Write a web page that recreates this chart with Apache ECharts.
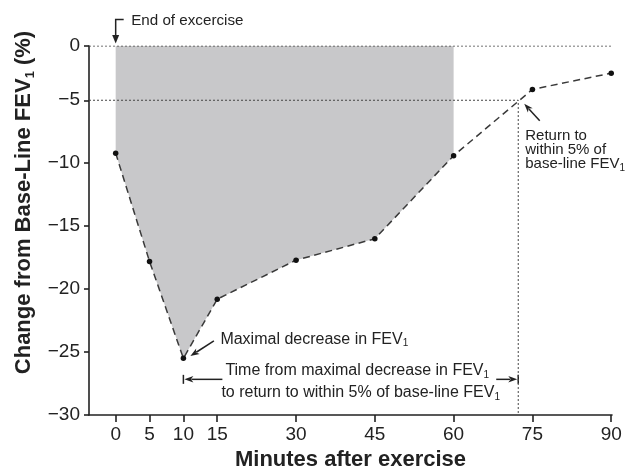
<!DOCTYPE html>
<html><head><meta charset="utf-8">
<script src="https://cdn.jsdelivr.net/npm/echarts@6/dist/echarts.min.js"></script>
<style>html,body{margin:0;padding:0;background:#fff}#c{width:627px;height:476px}</style>
</head><body><div id="c"></div>
<script>
// ---------------- data ----------------
const minutes = [0, 5, 10, 15, 30, 45, 60, 75, 90];
const fevChange = [-9.2, -17.8, -25.5, -20.8, -17.7, -16.0, -9.4, -4.0, -2.5];
const xTickMinutes = [0, 5, 10, 15, 30, 45, 60, 75, 90];
const yTickValues = [0, -5, -10, -15, -20, -25, -30];
const aucEndMinute = 60;
const baseline = 0;
const threshold = -5;
const returnMinute = 72.3;
const maxDropMinute = 10;
const maxDropValue = -25.5;
const xRangeMinutes = [-3.94, 90.15];
const yRange = [-30, 0];

// The printed axes are not uniform: 0-15 min is drawn wider than 15-90 min,
// and 0 to -5 is drawn narrower than the rest of the y scale.
const X_KNOT = 15, X_STRETCH = 1.289;
const Y_KNOT = -5, Y_SQUEEZE = 0.862;
function wx(t){ return t <= X_KNOT ? t * X_STRETCH : X_KNOT * X_STRETCH + (t - X_KNOT); }
function ux(v){ const k = X_KNOT * X_STRETCH; return v <= k ? v / X_STRETCH : v - k + X_KNOT; }
function wy(v){ return v >= Y_KNOT ? v * Y_SQUEEZE : Y_KNOT * Y_SQUEEZE + (v - Y_KNOT); }
function uy(w){ const k = Y_KNOT * Y_SQUEEZE; return w >= k ? w / Y_SQUEEZE : w - k + Y_KNOT; }

const FONT = '"Liberation Sans", Arial, Helvetica, sans-serif';
const INK = '#222';

const curve = minutes.map((t, i) => [wx(t), wy(fevChange[i])]);
const aucCurve = minutes.map((t, i) => [t, fevChange[i]]).filter(p => p[0] <= aucEndMinute).map(p => [wx(p[0]), wy(p[1])]);

const chart = echarts.init(document.getElementById('c'), null, {renderer: 'canvas'});
const option = {
  animation: false,
  backgroundColor: '#fff',
  grid: {left: 89, right: 15, top: 46, bottom: 56},
  xAxis: {
    type: 'value',
    min: wx(xRangeMinutes[0]), max: wx(xRangeMinutes[1]),
    name: 'Minutes after exercise', nameLocation: 'middle', nameGap: 34,
    nameTextStyle: {fontSize: 22, fontWeight: 'bold', color: INK, fontFamily: FONT},
    axisLine: {onZero: false, lineStyle: {color: INK, width: 1.6}},
    axisTick: {show: true, inside: false, length: 7, lineStyle: {color: INK, width: 1.6}, customValues: xTickMinutes.map(wx)},
    axisLabel: {fontSize: 19, color: INK, fontFamily: FONT, margin: 10, customValues: xTickMinutes.map(wx),
      formatter: v => String(Math.round(ux(v)))},
    splitLine: {show: false}
  },
  yAxis: {
    type: 'value',
    min: wy(yRange[0]), max: wy(yRange[1]),
    name: '{b|Change from Base-Line FEV}{s|1}{b| (%)}', nameLocation: 'middle', nameGap: 44,
    nameTextStyle: {color: INK, fontFamily: FONT, padding: [0, 0, 0, 56],
      rich: {b: {fontSize: 22, fontWeight: 'bold', color: INK, fontFamily: FONT, lineHeight: 26},
             s: {fontSize: 13, fontWeight: 'bold', color: INK, fontFamily: FONT, lineHeight: 10, verticalAlign: 'bottom'}}},
    axisLine: {onZero: false, lineStyle: {color: INK, width: 1.6}},
    axisTick: {show: true, inside: false, length: 5, lineStyle: {color: INK, width: 1.6}, customValues: yTickValues.map(wy)},
    axisLabel: {fontSize: 19, color: INK, fontFamily: FONT, margin: 9, customValues: yTickValues.map(wy),
      formatter: v => { const r = Math.round(uy(v)); return r < 0 ? '\u2212' + Math.abs(r) : String(r); }},
    splitLine: {show: false}
  },
  series: [
    {type: 'line', name: 'area', data: aucCurve, symbol: 'none', silent: true, z: 1,
     lineStyle: {width: 0, opacity: 0}, areaStyle: {color: '#c8c8ca', opacity: 1, origin: 'end'}},
    {type: 'line', name: 'baseline', data: [[wx(xRangeMinutes[0]), wy(baseline)], [wx(xRangeMinutes[1]), wy(baseline)]],
     symbol: 'none', silent: true, z: 2, lineStyle: {color: '#444', width: 1, type: [2, 2]}},
    {type: 'line', name: 'threshold', data: [[wx(xRangeMinutes[0]), wy(threshold)], [wx(returnMinute), wy(threshold)], [wx(returnMinute), wy(yRange[0])]],
     symbol: 'none', silent: true, z: 2, lineStyle: {color: '#444', width: 1, type: [2, 2]}},
    {type: 'line', name: 'FEV1', data: curve, symbol: 'circle', symbolSize: 5.5, z: 3,
     itemStyle: {color: '#111', borderWidth: 0},
     lineStyle: {color: '#3a3a3a', width: 1.5, type: [7, 4.5]}}
  ]
};
chart.setOption(option);

// ---------------- annotations ----------------
const px = (t, v) => chart.convertToPixel({gridIndex: 0}, [wx(t), wy(v)]);
function arrow(x1, y1, x2, y2, len, w) {
  len = len || 9; w = w || 6.5;
  const dx = x2 - x1, dy = y2 - y1, L = Math.hypot(dx, dy), ux_ = dx / L, uy_ = dy / L;
  const bx = x2 - ux_ * len, by = y2 - uy_ * len;
  const nx = -uy_ * w / 2, ny = ux_ * w / 2;
  return [
    {type: 'line', shape: {x1: x1, y1: y1, x2: bx + ux_ * 2, y2: by + uy_ * 2}, style: {stroke: INK, lineWidth: 1.5}, silent: true},
    {type: 'polygon', shape: {points: [[x2, y2], [bx + nx, by + ny], [bx + ux_ * 2.5, by + uy_ * 2.5], [bx - nx, by - ny]]}, style: {fill: INK}, silent: true}
  ];
}
function label(x, y, text, size, align) {
  size = size || 15.5;
  return {type: 'text', x: x, y: y, silent: true, style: {
    text: text, fill: INK, font: size + 'px ' + FONT, align: align || 'left', verticalAlign: 'middle',
    textAlign: align || 'left', textVerticalAlign: 'middle',
    rich: {a: {fontSize: size, fontFamily: FONT, color: INK, lineHeight: 18},
           s: {fontSize: 10, fontFamily: FONT, color: INK, lineHeight: 8, verticalAlign: 'bottom'}}}};
}
const p0 = px(0, baseline);
const pm = px(maxDropMinute, maxDropValue);
const pr = px(returnMinute, threshold);
const barY = pm[1] + 21;
const g = [];
// End of exercise bracket arrow
g.push({type: 'polyline', shape: {points: [[p0[0] + 8, p0[1] - 26.5], [p0[0], p0[1] - 26.5], [p0[0], p0[1] - 8]]}, style: {stroke: INK, lineWidth: 1.5, fill: null}, silent: true});
g.push({type: 'polygon', shape: {points: [[p0[0], p0[1] - 2.5], [p0[0] - 3.5, p0[1] - 11], [p0[0] + 3.5, p0[1] - 11]]}, style: {fill: INK}, silent: true});
g.push(label(p0[0] + 15.5, p0[1] - 24.7, '{a|End of excercise}', 15.2));
// Area label
g.push(label(286, 145, '{a|Area under the curve}', 15.5, 'center'));
// Maximal decrease
g.push(...arrow(pm[0] + 30.5, pm[1] - 17.5, pm[0] + 7, pm[1] - 2.3));
g.push(label(pm[0] + 37, pm[1] - 19, '{a|Maximal decrease in FEV}{s|1}', 16));
// Time bracket
g.push({type: 'line', shape: {x1: pm[0], y1: barY - 4.5, x2: pm[0], y2: barY + 4.5}, style: {stroke: INK, lineWidth: 1.5}, silent: true});
g.push(...arrow(pm[0] + 39, barY, pm[0] + 1, barY));
g.push({type: 'line', shape: {x1: pr[0], y1: barY - 4.5, x2: pr[0], y2: barY + 4.5}, style: {stroke: INK, lineWidth: 1.5}, silent: true});
g.push(...arrow(pr[0] - 22, barY, pr[0] - 1, barY));
g.push(label(pm[0] + 42, pm[1] + 12.7, '{a|Time from maximal decrease in FEV}{s|1}', 16));
g.push(label(pm[0] + 38, pm[1] + 34.5, '{a|to return to within 5% of base-line FEV}{s|1}', 16));
// Return to within 5%
g.push(...arrow(pr[0] + 21.5, pr[1] + 20.5, pr[0] + 6, pr[1] + 3.5));
g.push(label(pr[0] + 7, pr[1] + 36, '{a|Return to}', 15));
g.push(label(pr[0] + 7, pr[1] + 50, '{a|within 5% of}', 15));
g.push(label(pr[0] + 7, pr[1] + 64, '{a|base-line FEV}{s|1}', 15));
chart.setOption({graphic: g});
</script>
</body></html>
